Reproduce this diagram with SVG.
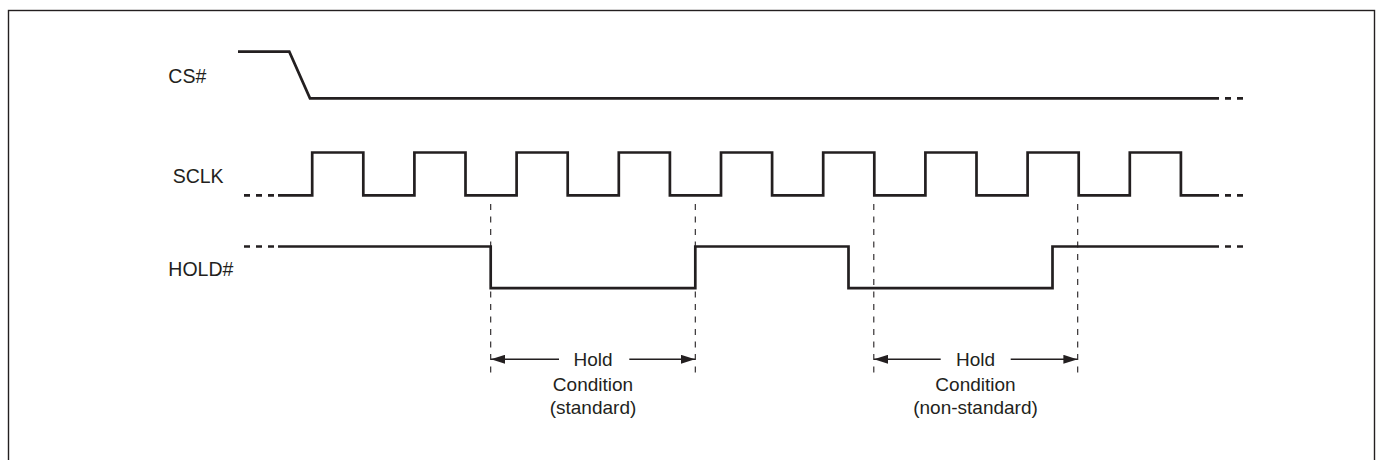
<svg xmlns="http://www.w3.org/2000/svg" width="1377" height="460" viewBox="0 0 1377 460">
  <defs>
    <marker id="ah" viewBox="0 0 14 9" refX="14" refY="4.5" markerWidth="14" markerHeight="9" markerUnits="userSpaceOnUse" orient="auto-start-reverse">
      <path d="M0,0 L14,4.5 L0,9 Z" fill="#231f20"/>
    </marker>
    <style>
      .sig { fill: none; stroke: #231f20; stroke-width: 2.7; stroke-linejoin: miter; stroke-linecap: butt; }
      .tail { fill: none; stroke: #231f20; stroke-width: 2.7; stroke-dasharray: 6 6; }
      .guide { fill: none; stroke: #231f20; stroke-width: 1.1; stroke-dasharray: 6 6.5; }
      .arr { fill: none; stroke: #231f20; stroke-width: 1.5; }
      .lbl { font-family: "Liberation Sans", Arial, sans-serif; font-size: 19.5px; fill: #231f20; }
      .cap { font-family: "Liberation Sans", Arial, sans-serif; font-size: 19px; fill: #231f20; text-anchor: middle; }
    </style>
  </defs>
  <rect x="8.5" y="10.5" width="1366" height="470" fill="#ffffff" stroke="#231f20" stroke-width="1.4"/>

  <g id="cs">
    <text class="lbl" x="168.3" y="83.3">CS#</text>
    <polyline class="sig" points="238,51.7 289.3,51.7 310,98.3 1213,98.3"/>
    <line class="tail" x1="1213" y1="98.3" x2="1246" y2="98.3"/>
  </g>

  <g id="sclk">
    <text class="lbl" x="172.7" y="183.3">SCLK</text>
    <line class="tail" x1="244" y1="195.3" x2="278" y2="195.3" stroke-dasharray="6 6" />
    <polyline class="sig" points="278,195.3 312.2,195.3 312.2,152.5 363.3,152.5 363.3,195.3 414.4,195.3 414.4,152.5 465.5,152.5 465.5,195.3 516.6,195.3 516.6,152.5 567.7,152.5 567.7,195.3 618.8,195.3 618.8,152.5 669.9,152.5 669.9,195.3 721,195.3 721,152.5 772.1,152.5 772.1,195.3 823.2,195.3 823.2,152.5 874.3,152.5 874.3,195.3 925.4,195.3 925.4,152.5 976.5,152.5 976.5,195.3 1027.6,195.3 1027.6,152.5 1078.7,152.5 1078.7,195.3 1129.8,195.3 1129.8,152.5 1180.9,152.5 1180.9,195.3 1213,195.3"/>
    <line class="tail" x1="1213" y1="195.3" x2="1246" y2="195.3"/>
  </g>

  <g id="hold">
    <text class="lbl" x="168.3" y="276">HOLD#</text>
    <line class="tail" x1="244" y1="246.5" x2="278" y2="246.5"/>
    <polyline class="sig" points="278,246.5 490.7,246.5 490.7,288.2 695.3,288.2 695.3,246.5 848.5,246.5 848.5,288.2 1052.5,288.2 1052.5,246.5 1213,246.5"/>
    <line class="tail" x1="1213" y1="246.5" x2="1246" y2="246.5"/>
  </g>

  <g id="connectors">
    <line class="guide" x1="490.7" y1="204" x2="490.7" y2="378"/>
    <line class="guide" x1="695.3" y1="204" x2="695.3" y2="378"/>
    <line class="guide" x1="873.8" y1="204" x2="873.8" y2="378"/>
    <line class="guide" x1="1077.7" y1="204" x2="1077.7" y2="378"/>
    <line class="arr" x1="559" y1="359.3" x2="491" y2="359.3" marker-end="url(#ah)"/>
    <line class="arr" x1="629.3" y1="359.3" x2="695" y2="359.3" marker-end="url(#ah)"/>
    <line class="arr" x1="940.7" y1="359.3" x2="874" y2="359.3" marker-end="url(#ah)"/>
    <line class="arr" x1="1010.7" y1="359.3" x2="1077.4" y2="359.3" marker-end="url(#ah)"/>
  </g>

  <g id="hold-standard">
    <text class="cap" x="593" y="366">Hold</text>
    <text class="cap" x="593" y="390.5">Condition</text>
    <text class="cap" x="593" y="414">(standard)</text>
  </g>
  <g id="hold-nonstandard">
    <text class="cap" x="975.5" y="366">Hold</text>
    <text class="cap" x="975.5" y="390.5">Condition</text>
    <text class="cap" x="975.5" y="414">(non-standard)</text>
  </g>
</svg>
